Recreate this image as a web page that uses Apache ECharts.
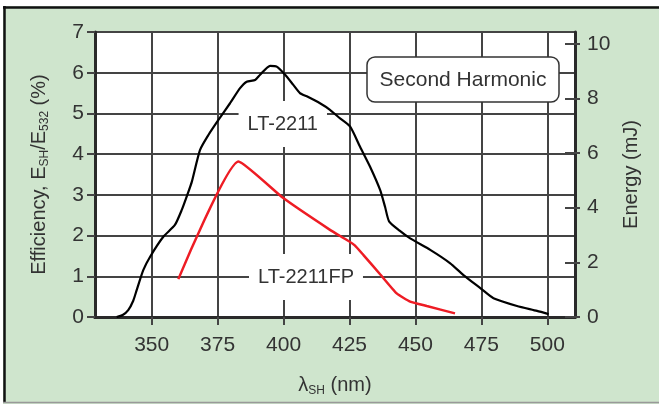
<!DOCTYPE html>
<html>
<head>
<meta charset="utf-8">
<script src="https://cdn.jsdelivr.net/npm/echarts@6/dist/echarts.min.js"></script>
<style>
html, body { margin: 0; padding: 0; background: #fff; }
#chart { width: 659px; height: 404px; }
</style>
</head>
<body>
<div id="chart"></div>
<script>
// LT-2211 curve (wavelength nm / efficiency %)
const lt2211X = [336.7, 339, 341.1, 343, 344.3, 346.8, 349.4, 354.4, 358.8, 361.4, 363.5, 365.2, 368.3, 371.5, 375.3, 379.7, 383.5, 386.0, 389.2, 391.1, 394.9, 397.4, 400.6, 403.7, 406.2, 408.8, 413.8, 417.6, 421, 425.2, 429, 432.8, 436.6, 438.5, 440, 444, 448, 455.6, 463.2, 468.2, 474.6, 479.6, 488.5, 496.1, 500.5];
const lt2211Y = [0, 0.05, 0.17, 0.4, 0.66, 1.15, 1.48, 1.97, 2.26, 2.63, 3.0, 3.32, 4.1, 4.47, 4.84, 5.25, 5.62, 5.78, 5.82, 5.95, 6.17, 6.15, 5.95, 5.70, 5.50, 5.42, 5.25, 5.09, 4.90, 4.68, 4.18, 3.69, 3.12, 2.7, 2.35, 2.12, 1.93, 1.65, 1.32, 1.03, 0.71, 0.46, 0.27, 0.15, 0.07];

// LT-2211FP curve
const lt2211fpX = [360.1, 382.9, 399.9, 417.6, 424.0, 427.0, 430.3, 436.6, 442.9, 448.0, 454.3, 465.0];
const lt2211fpY = [0.93, 3.82, 2.92, 2.14, 1.89, 1.76, 1.52, 1.05, 0.58, 0.38, 0.27, 0.09];

// axis ticks
const xTicks = [350, 375, 400, 425, 450, 475, 500];
const energyTicks = [0, 2, 4, 6, 8, 10];

// label anchors (data coords)
const labelLT2211 = [399.7, 4.74];
const labelLT2211FP = [408.5, 0.98];

const FONT = 'Liberation Sans, Arial, sans-serif';
const TXT = '#333';
const AXIS = '#2a2a2a';
const GRIDLINE = '#444';

const zip = (xs, ys) => xs.map((x, i) => [x, ys[i]]);

const chart = echarts.init(document.getElementById('chart'));

const nameRich = {
  a: { fontSize: 20, fontFamily: FONT, color: TXT, lineHeight: 22, verticalAlign: 'top' },
  s: { fontSize: 12, fontFamily: FONT, color: TXT, lineHeight: 12, verticalAlign: 'bottom' }
};

chart.setOption({
  backgroundColor: '#cfe5cd',
  animation: false,
  grid: {
    left: 95, right: 84, top: 32, bottom: 87,
    show: true, backgroundColor: '#fff', borderWidth: 0
  },
  xAxis: [
    {
      type: 'value',
      min: 328.5,
      max: 510.5,
      position: 'bottom',
      name: '{a|λ}{s|SH}{a| (nm)}',
      nameLocation: 'middle',
      nameGap: 58,
      nameTextStyle: { rich: nameRich },
      axisLine: { lineStyle: { color: AXIS, width: 3 } },
      axisTick: { customValues: xTicks, length: 8, lineStyle: { color: GRIDLINE, width: 2 } },
      axisLabel: { customValues: xTicks, margin: 18, fontSize: 21, color: TXT, fontFamily: FONT },
      splitLine: { show: true, lineStyle: { color: GRIDLINE, width: 2 } }
    },
    {
      type: 'value',
      min: 328.5,
      max: 510.5,
      position: 'top',
      axisLine: { lineStyle: { color: AXIS, width: 3 } },
      axisTick: { show: false },
      axisLabel: { show: false },
      splitLine: { show: false }
    }
  ],
  yAxis: [
    {
      type: 'value',
      min: 0,
      max: 7,
      interval: 1,
      position: 'left',
      name: '{a|Efficiency, E}{s|SH}{a|/E}{s|532}{a| (%)}',
      nameLocation: 'middle',
      nameRotate: 90,
      nameGap: 44,
      nameTextStyle: { rich: nameRich },
      axisLine: { show: true, lineStyle: { color: AXIS, width: 3 } },
      axisTick: { show: true, length: 8, lineStyle: { color: GRIDLINE, width: 2 } },
      axisLabel: { margin: 11, fontSize: 21, color: TXT, fontFamily: FONT },
      splitLine: { show: true, lineStyle: { color: GRIDLINE, width: 2 } }
    },
    {
      type: 'value',
      min: 0,
      max: 10.43,
      position: 'right',
      name: 'Energy (mJ)',
      nameLocation: 'middle',
      nameRotate: 90,
      nameGap: 46,
      nameTextStyle: { fontSize: 20, fontFamily: FONT, color: TXT },
      axisLine: { show: true, lineStyle: { color: AXIS, width: 3 } },
      axisTick: { show: true, customValues: energyTicks, length: 5, lineStyle: { color: GRIDLINE, width: 2 } },
      axisLabel: { customValues: energyTicks, margin: 12, fontSize: 21, color: TXT, fontFamily: FONT },
      splitLine: { show: false }
    },
    {
      type: 'value',
      min: 0,
      max: 10.43,
      position: 'right',
      axisLine: { show: false },
      axisTick: { show: true, inside: true, customValues: energyTicks, length: 10, lineStyle: { color: GRIDLINE, width: 2 } },
      axisLabel: { show: false },
      splitLine: { show: false }
    }
  ],
  series: [
    {
      name: 'LT-2211',
      type: 'line',
      xAxisIndex: 0,
      yAxisIndex: 0,
      data: zip(lt2211X, lt2211Y),
      smooth: 0.2,
      symbol: 'none',
      lineStyle: { color: '#000', width: 2.2 }
    },
    {
      name: 'LT-2211FP',
      type: 'line',
      xAxisIndex: 0,
      yAxisIndex: 0,
      data: zip(lt2211fpX, lt2211fpY),
      smooth: 0.15,
      symbol: 'none',
      lineStyle: { color: '#ee1c24', width: 2.5 }
    }
  ]
});

// curve labels and annotation box
const p1 = chart.convertToPixel({ xAxisIndex: 0, yAxisIndex: 0 }, labelLT2211);
const p2 = chart.convertToPixel({ xAxisIndex: 0, yAxisIndex: 0 }, labelLT2211FP);

const curveLabel = (id, text, p) => ({
  id: id,
  type: 'text',
  z: 1,
  x: p[0],
  y: p[1],
  style: {
    text: text,
    fontSize: 20,
    fontFamily: FONT,
    fill: TXT,
    align: 'center',
    verticalAlign: 'middle',
    backgroundColor: '#fff',
    padding: [13, 9]
  }
});

chart.setOption({
  graphic: [
    // white margin + frame lines
    { type: 'rect', shape: { x: 0, y: 0, width: 659, height: 6 }, style: { fill: '#fff' } },
    { type: 'rect', shape: { x: 0, y: 0, width: 3, height: 404 }, style: { fill: '#fff' } },
    { type: 'line', shape: { x1: 3, y1: 7.5, x2: 659, y2: 7.5 }, style: { stroke: '#111', lineWidth: 2.5 } },
    { type: 'line', shape: { x1: 4.5, y1: 6, x2: 4.5, y2: 402 }, style: { stroke: '#111', lineWidth: 2.5 } },
    { type: 'line', shape: { x1: 3, y1: 402.5, x2: 659, y2: 402.5 }, style: { stroke: '#999', lineWidth: 1.5 } },
    curveLabel('lt2211', 'LT-2211', p1),
    curveLabel('lt2211fp', 'LT-2211FP', p2),
    {
      type: 'rect',
      z: 1,
      shape: { x: 367, y: 57, width: 192, height: 45, r: 8 },
      style: { fill: '#fff', stroke: '#333', lineWidth: 1.5 }
    },
    {
      type: 'text',
      z: 1,
      x: 463,
      y: 80,
      style: {
        text: 'Second Harmonic',
        fontSize: 21,
        fontFamily: FONT,
        fill: TXT,
        align: 'center',
        verticalAlign: 'middle'
      }
    }
  ]
});
</script>
</body>
</html>
